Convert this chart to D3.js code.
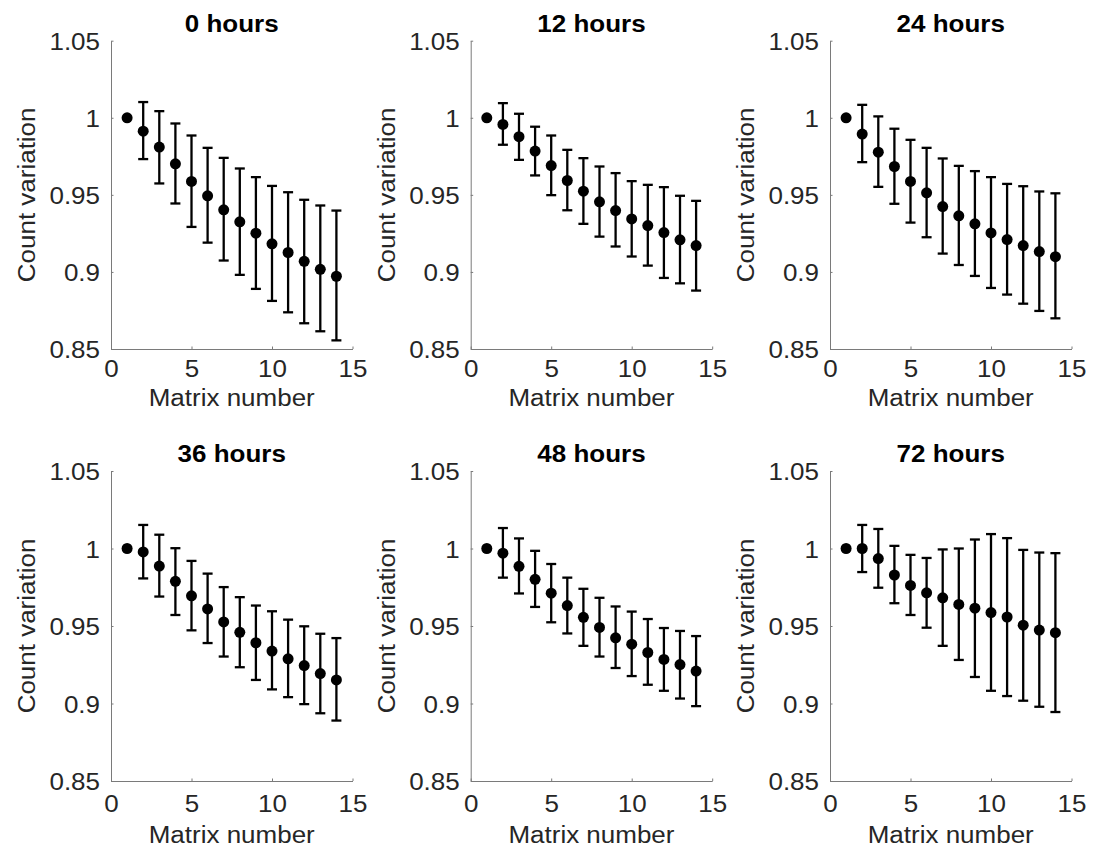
<!DOCTYPE html>
<html>
<head>
<meta charset="utf-8">
<script src="https://cdn.jsdelivr.net/npm/d3@7/dist/d3.min.js"></script>
<style>
  html, body { margin: 0; padding: 0; background: #fff; }
  svg { display: block; }
</style>
</head>
<body>
<svg id="chart" width="1103" height="857"></svg>
<script>
// ---------- data ----------
const matrixNumbers = [1,2,3,4,5,6,7,8,9,10,11,12,13,14];
const panelTitles = ["0 hours","12 hours","24 hours","36 hours","48 hours","72 hours"];
const xTickValues = [0,5,10,15];
const xTickLabels = ["0","5","10","15"];
const yTickValues = [0.85,0.9,0.95,1,1.05];
const yTickLabels = ["0.85","0.9","0.95","1","1.05"];
const xLabel = "Matrix number";
const yLabel = "Count variation";

const mean0h = [1,0.9913,0.9810,0.9701,0.9587,0.9494,0.9403,0.9325,0.9251,0.9182,0.9126,0.9069,0.9017,0.8972];
const low0h  = [1,0.9732,0.9574,0.9444,0.9292,0.9190,0.9074,0.8981,0.8890,0.8812,0.8738,0.8667,0.8615,0.8556];
const high0h = [1,1.0102,1.0043,0.9963,0.9885,0.9805,0.9740,0.9671,0.9615,0.9558,0.9517,0.9468,0.9431,0.9398];

const mean12h = [1,0.9957,0.9877,0.9784,0.9690,0.9593,0.9524,0.9455,0.9398,0.9344,0.9301,0.9255,0.9208,0.9171];
const low12h  = [1,0.9825,0.9727,0.9626,0.9498,0.9400,0.9312,0.9229,0.9165,0.9100,0.9041,0.8961,0.8926,0.8879];
const high12h = [1,1.0095,1.0026,0.9942,0.9885,0.9792,0.9738,0.9684,0.9641,0.9589,0.9565,0.9550,0.9494,0.9461];

const mean24h = [1,0.9894,0.9777,0.9684,0.9587,0.9513,0.9424,0.9364,0.9312,0.9253,0.9210,0.9171,0.9132,0.9099];
const low24h  = [1,0.9712,0.9552,0.9442,0.9320,0.9225,0.9119,0.9045,0.8974,0.8896,0.8853,0.8794,0.8747,0.8699];
const high24h = [1,1.0084,1.0009,0.9929,0.9857,0.9805,0.9736,0.9688,0.9654,0.9615,0.9571,0.9556,0.9522,0.9510];

const mean36h = [1,0.9978,0.9887,0.9788,0.9695,0.9610,0.9526,0.9459,0.9392,0.9338,0.9288,0.9245,0.9193,0.9152];
const low36h  = [1,0.9807,0.9690,0.9571,0.9472,0.9390,0.9303,0.9234,0.9152,0.9091,0.9041,0.8996,0.8937,0.8890];
const high36h = [1,1.0152,1.0089,1.0002,0.9920,0.9838,0.9751,0.9686,0.9632,0.9595,0.9541,0.9498,0.9450,0.9422];

const mean48h = [1,0.9970,0.9885,0.9801,0.9712,0.9632,0.9556,0.9491,0.9424,0.9383,0.9329,0.9284,0.9251,0.9209];
const low48h  = [1,0.9812,0.9710,0.9623,0.9524,0.9452,0.9372,0.9303,0.9229,0.9177,0.9121,0.9082,0.9032,0.8983];
const high48h = [1,1.0132,1.0065,0.9985,0.9900,0.9812,0.9740,0.9682,0.9626,0.9593,0.9545,0.9487,0.9468,0.9435];

const mean72h = [1,1.0000,0.9935,0.9829,0.9762,0.9714,0.9682,0.9639,0.9615,0.9587,0.9558,0.9505,0.9474,0.9457];
const low72h  = [1,0.9848,0.9747,0.9647,0.9571,0.9489,0.9372,0.9281,0.9171,0.9082,0.9048,0.9018,0.8979,0.8945];
const high72h = [1,1.0152,1.0126,1.0017,0.9959,0.9939,0.9994,1.0000,1.0058,1.0093,1.0067,0.9991,0.9974,0.9970];

const panelMeans = [mean0h, mean12h, mean24h, mean36h, mean48h, mean72h];
const panelLows  = [low0h, low12h, low24h, low36h, low48h, low72h];
const panelHighs = [high0h, high12h, high24h, high36h, high48h, high72h];

// ---------- layout ----------
const colLeft = [111, 470.7, 830];
const rowTop = [40.7, 471];
const rowBottom = [349, 781];
const rowTickLabelOffset = [28, 31];
const rowXLabelOffset = [57, 62];
const axisW = 241.5;
const SX = 1.13;           // horizontal stretch of the reference's glyphs
const FONT = "'Liberation Sans', Arial, Helvetica, sans-serif";
const textColor = "#262626";
const axisColor = "#7a7a7a";

const svg = d3.select("#chart");
svg.append("rect").attr("width",1103).attr("height",857).attr("fill","#fff");

panelTitles.forEach((title, i) => {
  const col = i % 3, row = Math.floor(i / 3);
  const left = colLeft[col], top = rowTop[row], bottom = rowBottom[row];
  const x = d3.scaleLinear().domain([0,15]).range([left, left + axisW]);
  const y = d3.scaleLinear().domain([0.85,1.05]).range([bottom, top]);
  const g = svg.append("g");

  // y axis
  const yAxis = g.append("g")
    .attr("transform", `translate(${left},0)`)
    .call(d3.axisLeft(y).tickValues(yTickValues)
      .tickFormat((d, k) => yTickLabels[k])
      .tickSizeInner(-2.5).tickSizeOuter(0).tickPadding(0));
  yAxis.select(".domain").attr("stroke", axisColor).attr("stroke-width", 1);
  yAxis.selectAll(".tick line").attr("stroke", axisColor);
  yAxis.selectAll(".tick text")
    .attr("x", -11 / SX).attr("dy", "0.38em")
    .attr("transform", `scale(${SX},1)`)
    .attr("fill", textColor).style("font-family", FONT).style("font-size", "23px");

  // x axis
  const xAxis = g.append("g")
    .attr("transform", `translate(0,${bottom})`)
    .call(d3.axisBottom(x).tickValues(xTickValues)
      .tickFormat((d, k) => xTickLabels[k])
      .tickSizeInner(-2.5).tickSizeOuter(0).tickPadding(0));
  xAxis.select(".domain").attr("stroke", axisColor).attr("stroke-width", 1);
  xAxis.selectAll(".tick line").attr("stroke", axisColor);
  xAxis.selectAll(".tick text")
    .attr("y", rowTickLabelOffset[row]).attr("dy", null)
    .attr("transform", `scale(${SX},1)`)
    .attr("fill", textColor).style("font-family", FONT).style("font-size", "23px");

  // error bars
  const means = panelMeans[i], lows = panelLows[i], highs = panelHighs[i];
  const pts = matrixNumbers.map((m, k) => ({ m, v: means[k], lo: lows[k], hi: highs[k] }));
  const bars = pts.filter(p => p.hi > p.lo);
  const eb = g.append("g").attr("stroke", "#000").attr("stroke-width", 2.3).attr("fill", "none");
  eb.selectAll("line.v").data(bars).join("line").attr("class","v")
    .attr("x1", p => x(p.m)).attr("x2", p => x(p.m))
    .attr("y1", p => y(p.lo)).attr("y2", p => y(p.hi));
  eb.selectAll("line.ct").data(bars).join("line").attr("class","ct")
    .attr("x1", p => x(p.m) - 5).attr("x2", p => x(p.m) + 5)
    .attr("y1", p => y(p.hi)).attr("y2", p => y(p.hi));
  eb.selectAll("line.cb").data(bars).join("line").attr("class","cb")
    .attr("x1", p => x(p.m) - 5).attr("x2", p => x(p.m) + 5)
    .attr("y1", p => y(p.lo)).attr("y2", p => y(p.lo));

  // markers
  g.append("g").selectAll("circle").data(pts).join("circle")
    .attr("cx", p => x(p.m)).attr("cy", p => y(p.v)).attr("r", 5.5).attr("fill", "#000");

  const cx = left + axisW / 2;
  // title
  g.append("text")
    .attr("transform", `translate(${cx},${top - 9}) scale(${SX},1)`)
    .attr("text-anchor", "middle")
    .style("font-family", FONT).style("font-size", "23px").style("font-weight", "bold")
    .attr("fill", "#000").text(title);
  // x label
  g.append("text")
    .attr("transform", `translate(${cx},${bottom + rowXLabelOffset[row]}) scale(${SX},1)`)
    .attr("text-anchor", "middle")
    .style("font-family", FONT).style("font-size", "23px")
    .attr("fill", textColor).text(xLabel);
  // y label
  g.append("text")
    .attr("transform", `translate(${left - 76},${(top + bottom) / 2}) rotate(-90) scale(${SX},1)`)
    .attr("text-anchor", "middle")
    .style("font-family", FONT).style("font-size", "23px")
    .attr("fill", textColor).text(yLabel);
});
</script>
</body>
</html>
